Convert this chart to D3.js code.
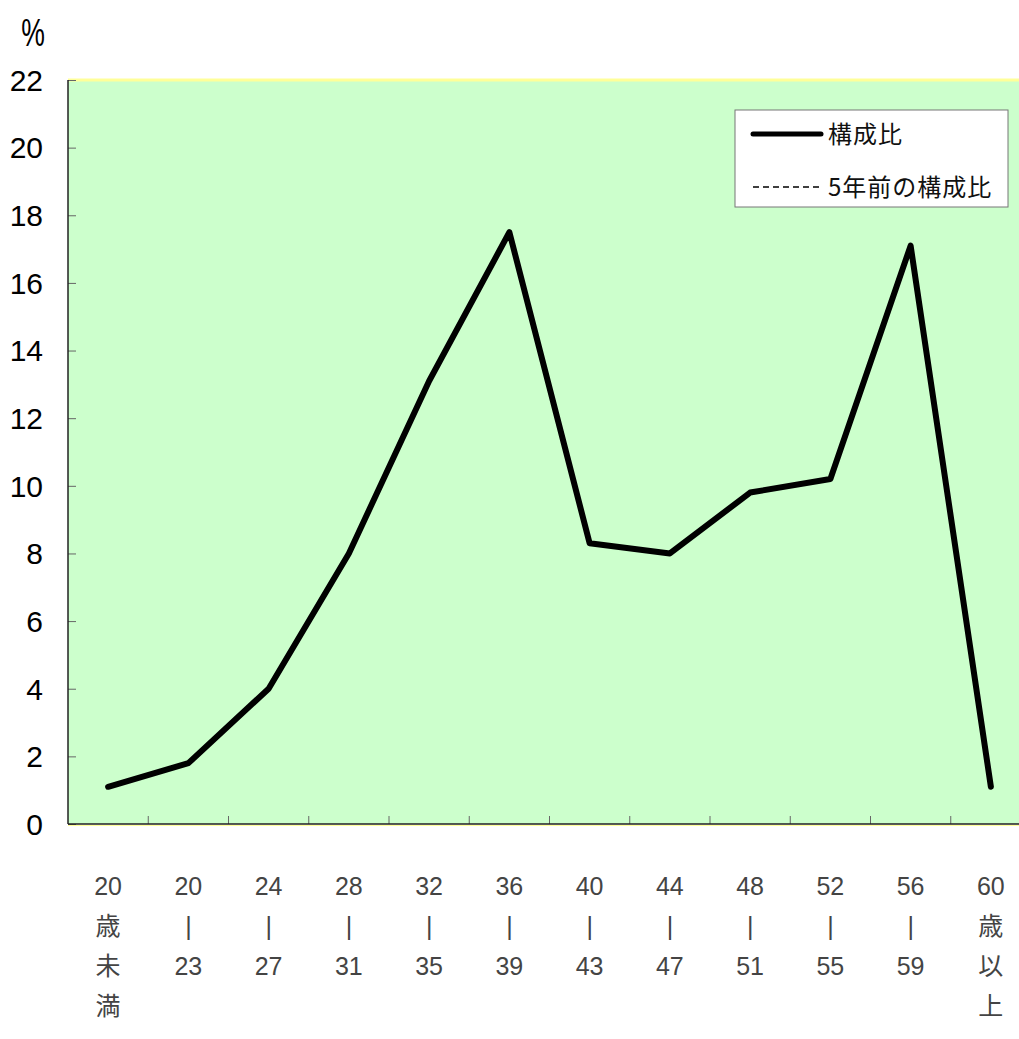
<!DOCTYPE html>
<html>
<head>
<meta charset="utf-8">
<script src="https://cdn.jsdelivr.net/npm/d3@7"></script>
<style>
  body { margin: 0; background: #fff; }
  svg { display: block; }
</style>
</head>
<body>
<div id="vis"></div>
<script>
// age groups, one stacked label per column
var categories = ["20歳未満", "20-23", "24-27", "28-31", "32-35", "36-39", "40-43", "44-47", "48-51", "52-55", "56-59", "60歳以上"];
var catLines = [
  ["20", "歳", "未", "満"],
  ["20", "|", "23"],
  ["24", "|", "27"],
  ["28", "|", "31"],
  ["32", "|", "35"],
  ["36", "|", "39"],
  ["40", "|", "43"],
  ["44", "|", "47"],
  ["48", "|", "51"],
  ["52", "|", "55"],
  ["56", "|", "59"],
  ["60", "歳", "以", "上"]
];
var ratio = [1.1, 1.8, 4.0, 8.0, 13.1, 17.5, 8.3, 8.0, 9.8, 10.2, 17.1, 1.1];
var yTicks = [0, 2, 4, 6, 8, 10, 12, 14, 16, 18, 20, 22];
var legendLabels = ["構成比", "5年前の構成比"];

var W = 1019, H = 1039;
var m = {left: 68, top: 80},
    band = 80.25,
    pw = band * categories.length,
    ph = 744;

var x = d3.scaleBand().domain(categories).range([0, pw]);
var y = d3.scaleLinear().domain([0, 22]).range([ph, 0]);

var svg = d3.select("#vis").append("svg")
    .attr("width", W)
    .attr("height", H);

var g = svg.append("g")
    .attr("transform", "translate(" + m.left + "," + m.top + ")");

// plot background
g.append("rect")
    .attr("x", 0).attr("y", 0)
    .attr("width", pw).attr("height", ph)
    .attr("fill", "#ccffcc");
g.append("line")
    .attr("x1", 0).attr("x2", pw).attr("y1", 0).attr("y2", 0)
    .attr("stroke", "#ffff99").attr("stroke-width", 3);

// y axis, ticks pointing inward
var yAxis = d3.axisRight(y).tickValues(yTicks).tickSize(8).tickFormat("");
var ya = g.append("g").call(yAxis);
ya.select(".domain").remove();
ya.selectAll(".tick line").attr("stroke", "#666");

g.selectAll(".ylab")
    .data(yTicks)
  .enter().append("text")
    .attr("class", "ylab")
    .attr("x", -25)
    .attr("y", function(d) { return y(d); })
    .attr("dy", "0.36em")
    .attr("text-anchor", "end")
    .attr("font-family", "Liberation Sans, Arial, sans-serif")
    .attr("font-size", 30)
    .attr("fill", "#000")
    .text(function(d) { return d; });

svg.append("text")
    .attr("x", 33).attr("y", 46)
    .attr("text-anchor", "middle")
    .attr("font-family", "Liberation Sans, Arial, sans-serif")
    .attr("font-size", 38)
    .attr("transform", "translate(33,46) scale(0.7,1) translate(-33,-46)")
    .text("%");

// x axis ticks at band boundaries, pointing up
var bounds = categories.slice(1).map(function(c) { return x(c); });
g.selectAll(".xtick")
    .data(bounds)
  .enter().append("line")
    .attr("x1", function(d) { return d; })
    .attr("x2", function(d) { return d; })
    .attr("y1", ph)
    .attr("y2", ph - 8)
    .attr("stroke", "#666");

// axis lines
g.append("line")
    .attr("x1", 0).attr("x2", 0).attr("y1", 0).attr("y2", ph)
    .attr("stroke", "#222").attr("stroke-width", 1.5);
g.append("line")
    .attr("x1", 0).attr("x2", pw).attr("y1", ph).attr("y2", ph)
    .attr("stroke", "#222").attr("stroke-width", 1.5);
g.append("line")
    .attr("x1", 0).attr("x2", pw).attr("y1", ph + 1.5).attr("y2", ph + 1.5)
    .attr("stroke", "#ffff99").attr("stroke-width", 1);

// category labels, stacked vertically
var lab = g.selectAll(".xlab")
    .data(catLines)
  .enter().append("text")
    .attr("class", "xlab")
    .attr("font-family", "Liberation Sans, Arial, 'Noto Sans CJK JP', sans-serif")
    .attr("font-size", 25)
    .attr("fill", "#444")
    .attr("text-anchor", "middle");
lab.selectAll("tspan")
    .data(function(d, i) { return d.map(function(s) { return {s: s, i: i}; }); })
  .enter().append("tspan")
    .attr("x", function(d) { return x(categories[d.i]) + x.bandwidth() / 2; })
    .attr("y", function(d, j) { return 886 - m.top + 40 * j; })
    .attr("dy", "0.36em")
    .text(function(d) { return d.s; });

// line
var line = d3.line()
    .x(function(d, i) { return x(categories[i]) + x.bandwidth() / 2; })
    .y(function(d) { return y(d); });

g.append("path")
    .datum(ratio)
    .attr("d", line)
    .attr("fill", "none")
    .attr("stroke", "#000")
    .attr("stroke-width", 6)
    .attr("stroke-linejoin", "round")
    .attr("stroke-linecap", "round");

// legend
var lg = svg.append("g").attr("transform", "translate(735,110)");
lg.append("rect")
    .attr("width", 273).attr("height", 97)
    .attr("fill", "#fff")
    .attr("stroke", "#777").attr("stroke-width", 1);
lg.append("line")
    .attr("x1", 18).attr("x2", 86).attr("y1", 24).attr("y2", 24)
    .attr("stroke", "#000").attr("stroke-width", 5).attr("stroke-linecap", "round");
lg.append("line")
    .attr("x1", 18).attr("x2", 86).attr("y1", 77).attr("y2", 77)
    .attr("stroke", "#000").attr("stroke-width", 1.5).attr("stroke-dasharray", "6,4");
lg.selectAll(".lgtext")
    .data(legendLabels)
  .enter().append("text")
    .attr("x", 93)
    .attr("y", function(d, i) { return i === 0 ? 24 : 77; })
    .attr("dy", "0.36em")
    .attr("font-family", "'Noto Sans CJK JP', sans-serif")
    .attr("font-size", 24)
    .attr("letter-spacing", 1)
    .attr("fill", "#111")
    .text(function(d) { return d; });
</script>
</body>
</html>
